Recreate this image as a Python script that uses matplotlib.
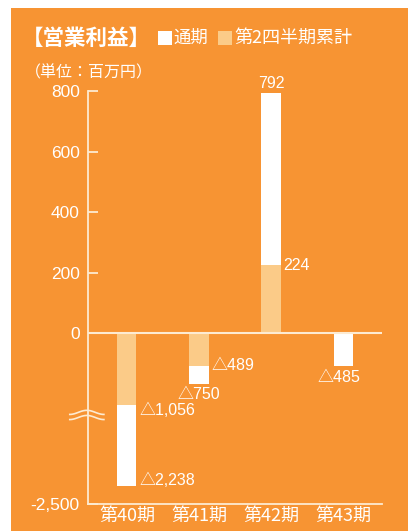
import numpy as np
import matplotlib
matplotlib.use("Agg")
import matplotlib.pyplot as plt
from matplotlib.patches import Rectangle
from matplotlib.transforms import blended_transform_factory

plt.rcParams['font.family'] = ['Liberation Sans', 'Noto Sans CJK JP', 'DejaVu Sans']

ORANGE = '#F79433'
LIGHT = '#FBCB88'
CREAM = '#FDEBD2'
JP = ['Noto Sans CJK JP', 'DejaVu Sans']

# 営業利益（百万円）
periods = ['第40期', '第41期', '第42期', '第43期']
full_year = [-2238, -750, 792, -485]
first_half = [-1056, -489, 224, np.nan]

yticks = [800, 600, 400, 200, 0, -2500]
ytick_labels = ['800', '600', '400', '200', '0', '-2,500']

# negative side of the axis is compressed (broken axis)
K = 0.226


def fwd(y):
    y = np.asarray(y, dtype=float)
    return np.where(y < 0, y * K, y)


def inv(y):
    y = np.asarray(y, dtype=float)
    return np.where(y < 0, y / K, y)


def fmt(v):
    if v < 0:
        return '△{:,}'.format(int(-v))
    return '{:,}'.format(int(v))


W, H = 408, 531
fig = plt.figure(figsize=(W / 100, H / 100), dpi=100, facecolor='white')
fig.add_artist(Rectangle((11 / W, 0), 1 - 11 / W, 1 - 8 / H, transform=fig.transFigure,
                         facecolor=ORANGE, edgecolor='none', zorder=-10))

ax = fig.add_axes([88 / W, 1 - 504 / H, 294 / W, 413 / H])
ax.set_facecolor('none')
ax.set_yscale('function', functions=(fwd, inv))
ax.set_ylim(-2500, 800)

x = np.arange(len(periods))
width = 0.265
ax.bar(x, full_year, width, color='white', zorder=2)
ax.bar(x, first_half, width, color=LIGHT, zorder=3)
ax.axhline(0, color=CREAM, lw=1.5, zorder=4)
ax.set_xlim(-0.54, 3.54)

for s in ['top', 'right']:
    ax.spines[s].set_visible(False)
for s in ['left', 'bottom']:
    ax.spines[s].set_color(CREAM)
    ax.spines[s].set_linewidth(1.3)

ax.set_yticks(yticks)
ax.set_yticklabels(ytick_labels)
ax.tick_params(axis='y', direction='in', length=7, width=1.3, color=CREAM,
               labelcolor='white', labelsize=12.5, pad=6)
ax.set_xticks(x)
ax.set_xticklabels(periods, family=JP)
ax.tick_params(axis='x', length=0, labelcolor='white', labelsize=13, pad=2)

# value labels
lab = dict(color='white', fontsize=11.5, family=['Liberation Sans', 'Noto Sans CJK JP'],
           textcoords='offset points', zorder=5)
ax.annotate(fmt(full_year[2]), (x[2], full_year[2]), xytext=(0, 2), ha='center', va='bottom', **lab)
ax.annotate(fmt(first_half[2]), (x[2] + width / 2, first_half[2]), xytext=(2, 0), ha='left', va='center', **lab)
ax.annotate(fmt(first_half[0]), (x[0] + width / 2, first_half[0]), xytext=(2, -4), ha='left', va='center', **lab)
ax.annotate(fmt(full_year[0]), (x[0] + width / 2, full_year[0]), xytext=(2, 4), ha='left', va='center', **lab)
ax.annotate(fmt(first_half[1]), (x[1] + width / 2, first_half[1]), xytext=(2, 1), ha='left', va='center', **lab)
ax.annotate(fmt(full_year[1]), (x[1], full_year[1]), xytext=(0, -2), ha='center', va='top', **lab)
ax.annotate(fmt(full_year[3]), (x[3], full_year[3]), xytext=(-3, -3), ha='center', va='top', **lab)

# break mark on the y axis
tr = blended_transform_factory(ax.transAxes, ax.transData)
wx = np.linspace(-0.062, 0.054, 60)
wave = np.sin((wx - wx[0]) / (wx[-1] - wx[0]) * 2 * np.pi + np.pi * 0.5)
for base in (-1160, -1235):
    ax.plot(wx, base - wave * 30, color=CREAM, lw=1.2, transform=tr,
            clip_on=False, zorder=6)

# heading
fig.text(22 / W, 1 - 38 / H, '【営業利益】', color='white', fontsize=15.5, fontweight='bold',
         family=JP, va='center', ha='left')
fig.add_artist(Rectangle((158 / W, 1 - 45 / H), 14 / W, 14 / H, transform=fig.transFigure,
                         facecolor='white', edgecolor='none'))
fig.text(173 / W, 1 - 38 / H, '通期', color='white', fontsize=12.5, family=JP, va='center', ha='left')
fig.add_artist(Rectangle((218 / W, 1 - 45 / H), 14 / W, 14 / H, transform=fig.transFigure,
                         facecolor=LIGHT, edgecolor='none'))
fig.text(234 / W, 1 - 38 / H, '第2四半期累計', color='white', fontsize=13, family=JP,
         va='center', ha='left')
fig.text(25 / W, 1 - 73 / H, '（単位：百万円）', color='white', fontsize=11.5, family=JP,
         va='center', ha='left')

fig.savefig('out.png', dpi=100, facecolor=fig.get_facecolor())
